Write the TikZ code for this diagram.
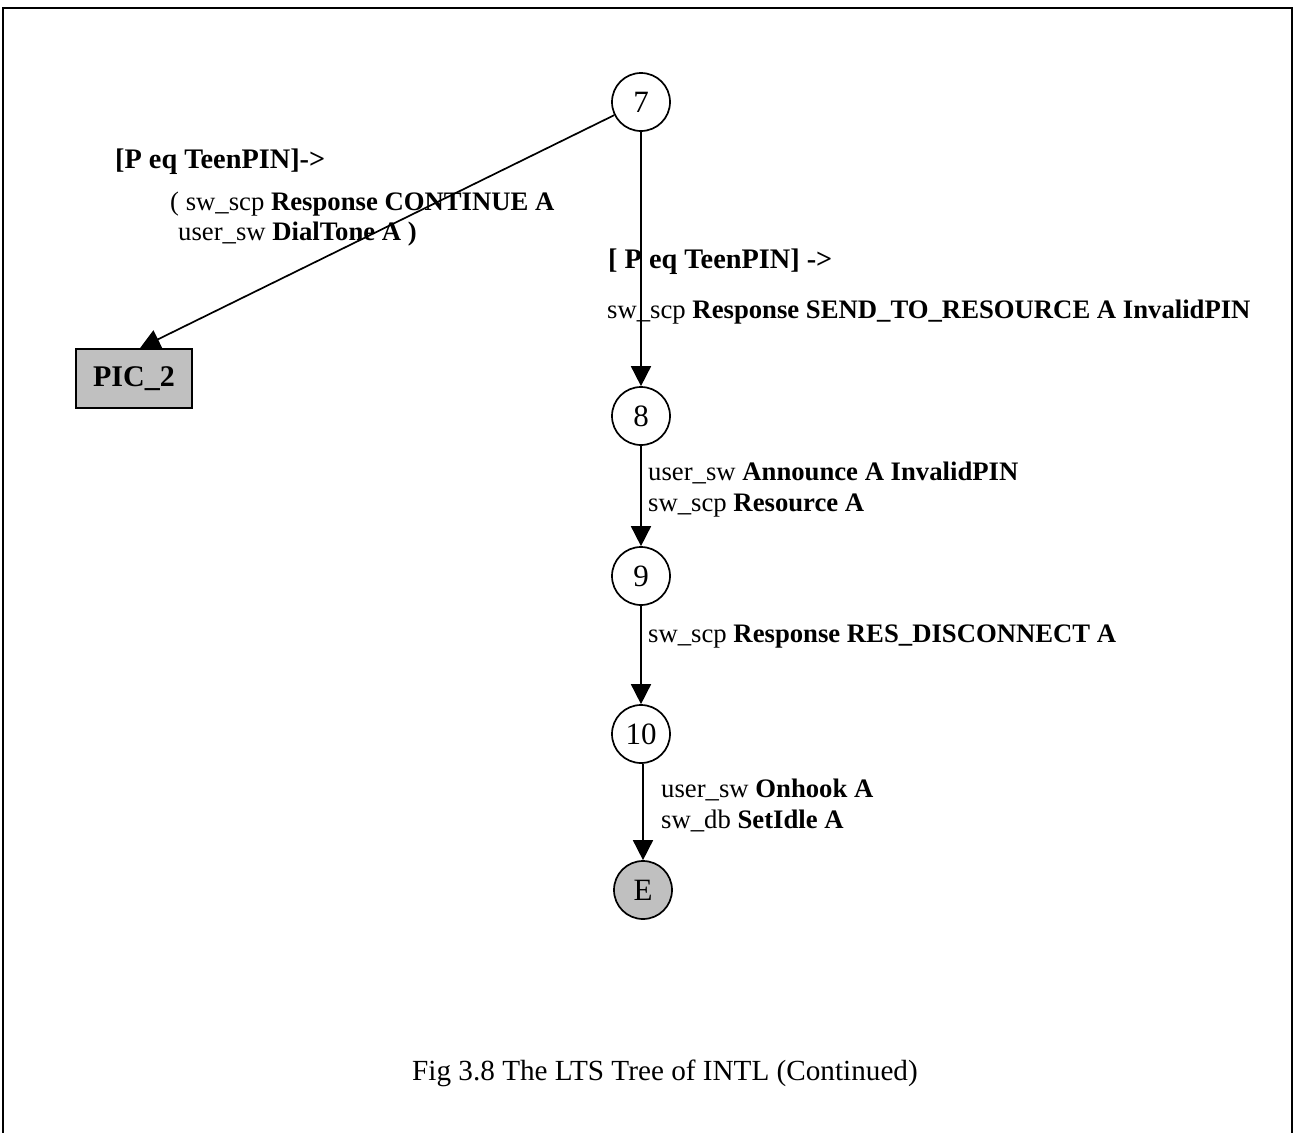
\documentclass[tikz,border=0pt]{standalone}
\usepackage{fontspec}
\setmainfont{Liberation Serif}
\usetikzlibrary{arrows.meta}
\definecolor{boxgray}{HTML}{C0C0C0}
\begin{document}
\begin{tikzpicture}[x=1pt,y=-1pt,
  state/.style={circle,draw,line width=1.7pt,minimum size=58pt,inner sep=0pt,
    font=\fontsize{31}{35}\selectfont},
  final/.style={state,fill=boxgray},
  picbox/.style={rectangle,draw,line width=1.7pt,fill=boxgray,minimum width=116pt,
    minimum height=59pt,inner sep=0pt,font=\fontsize{30}{34}\selectfont\bfseries},
  edge/.style={line width=1.7pt,-{Triangle[length=20pt,width=20pt]}},
  lbl/.style={anchor=base west,inner sep=0pt,font=\fontsize{26.7}{32}\selectfont},
  guard/.style={anchor=base west,inner sep=0pt,font=\fontsize{28.3}{32}\selectfont\bfseries},
  caption/.style={anchor=base west,inner sep=0pt,font=\fontsize{29.2}{34}\selectfont}]
\useasboundingbox (0,0) rectangle (1294,1133);
% open frame
\draw[line width=2pt] (3,1133) -- (3,8) -- (1292,8) -- (1292,1133);

% states
\node[state] (n7) at (641,102) {7};
\node[state] (n8) at (641,416) {8};
\node[state] (n9) at (641,576) {9};
\node[state] (n10) at (641,734) {10};
\node[final] (nE) at (643,890) {E};
\node[picbox] (pic) at (134,378.5) {PIC\_2};

% transitions
\draw[edge] (n7) -- ([xshift=6pt]pic.north);
\draw[edge] (n7) -- (n8);
\draw[edge] (n8) -- (n9);
\draw[edge] (n9) -- (n10);
\draw[edge] (n10.south -| nE.north) -- (nE);

% transition labels
\node[guard] (g1) at (115,168) {[P eq TeenPIN]->};
\node[lbl] (a1) at (170,210) {( sw\_scp \textbf{Response CONTINUE A}};
\node[lbl] (a2) at (178,240) {user\_sw \textbf{DialTone A )}};
\node[guard] (g2) at (608,268) {[ P eq TeenPIN] ->};
\node[lbl] (b1) at (607,318) {sw\_scp \textbf{Response SEND\_TO\_RESOURCE A InvalidPIN}};
\node[lbl] (c1) at (648,480) {user\_sw \textbf{Announce A InvalidPIN}};
\node[lbl] (c2) at (648,511) {sw\_scp \textbf{Resource A}};
\node[lbl] (d1) at (648,642) {sw\_scp \textbf{Response RES\_DISCONNECT A}};
\node[lbl] (e1) at (661,797) {user\_sw \textbf{Onhook A}};
\node[lbl] (e2) at (661,828) {sw\_db \textbf{SetIdle A}};

% caption
\node[caption] (cap) at (412,1080) {Fig 3.8 The LTS Tree of INTL (Continued)};
\end{tikzpicture}
\end{document}
